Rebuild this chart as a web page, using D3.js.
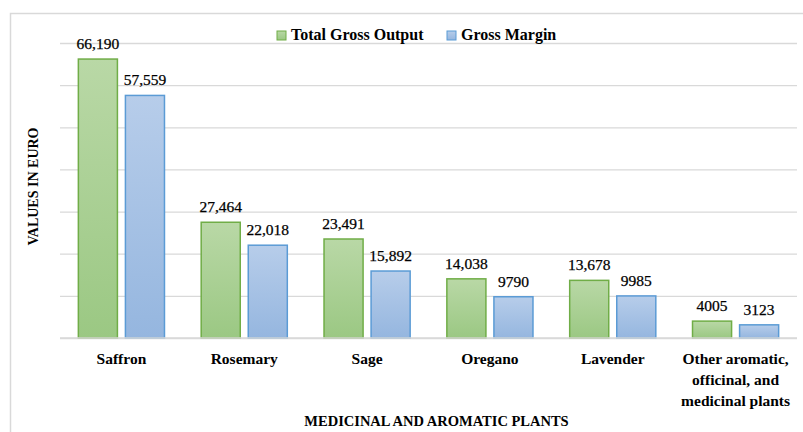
<html>
  <head>
    <title>Medicinal and aromatic plants</title>
    <script src="https://d3js.org/d3.v7.min.js"></script>
    <style>
      body { margin: 0; background: #fff; }
      svg text { font-family: "Liberation Serif", "Times New Roman", serif !important; fill: #000; }
    </style>
  </head>
  <body>
    <svg id="chart" width="803" height="432"></svg>
    <script>

    // data
    const categories = ["Saffron", "Rosemary", "Sage", "Oregano", "Lavender",
                        "Other aromatic,|officinal, and|medicinal plants"];
    const seriesNames = ["Total Gross Output", "Gross Margin"];
    const totalGrossOutput = [66190, 27464, 23491, 14038, 13678, 4005];
    const grossMargin = [57559, 22018, 15892, 9790, 9985, 3123];
    const valueLabels = [
      ["66,190", "27,464", "23,491", "14,038", "13,678", "4005"],
      ["57,559", "22,018", "15,892", "9790", "9985", "3123"]
    ];
    const yTicks = [0, 10000, 20000, 30000, 40000, 50000, 60000, 70000];

    const svg = d3.select("svg#chart");
    const margins = {"top":43, "left":60, "right":6, "bottom":94};
    const width = +svg.attr("width");
    const height = +svg.attr("height");
    const chartWidth = width - margins.left - margins.right;
    const chartHeight = height - margins.top - margins.bottom;

    // outer frame (bottom runs off the picture)
    svg.append("rect")
      .attr("x", 10.5).attr("y", 13.5)
      .attr("width", 820).attr("height", 440)
      .attr("fill", "none").attr("stroke", "#d9d9d9").attr("stroke-width", 1.5);

    const defs = svg.append("defs");
    const gradColors = [["#b9d8a6", "#9bc883"], ["#b7cdea", "#95b6df"]];
    const strokeColors = ["#70ad47", "#5b9bd5"];
    gradColors.forEach((c, i) => {
      const g = defs.append("linearGradient").attr("id", "grad" + i)
        .attr("x1", 0).attr("y1", 0).attr("x2", 0).attr("y2", 1);
      g.append("stop").attr("offset", "0%").attr("stop-color", c[0]);
      g.append("stop").attr("offset", "100%").attr("stop-color", c[1]);
    });

    const chart = svg.append("g")
      .attr("transform", "translate(" + margins.left + "," + margins.top + ")");

    const yScale = d3.scaleLinear().domain([0, 70000]).range([chartHeight, 0]);
    const x0 = d3.scaleBand().domain(categories).range([0, chartWidth]).padding(0);
    const x1 = d3.scaleBand().domain(seriesNames).range([0, x0.bandwidth()])
                 .paddingInner(0.17).paddingOuter(0.39);

    // gridlines
    const grid = d3.axisLeft(yScale).tickValues(yTicks).tickSize(-chartWidth).tickFormat("");
    chart.append("g").attr("class", "y gridlines")
      .call(grid)
      .call(g => g.select(".domain").remove())
      .call(g => g.selectAll("line").attr("stroke", "#d9d9d9").attr("stroke-width", 1.3));

    const rows = categories.map((c, i) => ({
      cat: c,
      vals: [totalGrossOutput[i], grossMargin[i]],
      labels: [valueLabels[0][i], valueLabels[1][i]]
    }));

    const groups = chart.selectAll("g.cat").data(rows).join("g")
      .attr("class", "cat")
      .attr("transform", d => "translate(" + x0(d.cat) + ",0)");

    groups.selectAll("rect.bar")
      .data(d => d.vals.map((v, k) => ({key: seriesNames[k], k: k, v: v, label: d.labels[k]})))
      .join("rect").attr("class", "bar")
      .attr("x", d => x1(d.key))
      .attr("y", d => yScale(d.v))
      .attr("width", x1.bandwidth())
      .attr("height", d => chartHeight - yScale(d.v))
      .attr("fill", d => "url(#grad" + d.k + ")")
      .attr("stroke", d => strokeColors[d.k])
      .attr("stroke-width", 1.5);

    groups.selectAll("text.val")
      .data(d => d.vals.map((v, k) => ({key: seriesNames[k], v: v, label: d.labels[k]})))
      .join("text").attr("class", "val")
      .attr("x", d => x1(d.key) + x1.bandwidth() / 2)
      .attr("y", d => yScale(d.v) - 10)
      .attr("text-anchor", "middle")
      .style("font-size", "15.5px")
      .style("stroke", "#000").style("stroke-width", 0.25)
      .text(d => d.label);

    // baseline
    chart.append("line")
      .attr("x1", 0).attr("x2", chartWidth)
      .attr("y1", yScale(0)).attr("y2", yScale(0))
      .attr("stroke", "#d9d9d9").attr("stroke-width", 1.5);

    // category labels
    const bottomAxis = d3.axisBottom(x0).tickSize(0).tickPadding(0);
    const xAxis = chart.append("g").attr("class", "x axis")
      .attr("transform", "translate(0," + chartHeight + ")")
      .call(bottomAxis);
    xAxis.select(".domain").remove();
    xAxis.selectAll(".tick text").each(function(d) {
      const t = d3.select(this);
      t.text(null).attr("y", 0).attr("dy", null).attr("fill", "#000")
       .style("font-size", "15.5px").style("font-weight", "bold");
      d.split("|").forEach((line, i) => {
        t.append("tspan").attr("x", 0).attr("y", 26 + i * 21).text(line);
      });
    });

    // legend
    const legend = svg.append("g").attr("class", "legend");
    const legendX = [277, 447];
    seriesNames.forEach((s, i) => {
      legend.append("rect")
        .attr("x", legendX[i]).attr("y", 31)
        .attr("width", 9).attr("height", 9)
        .attr("fill", "url(#grad" + i + ")")
        .attr("stroke", strokeColors[i]).attr("stroke-width", 1);
      legend.append("text")
        .attr("x", legendX[i] + 14).attr("y", 40)
        .style("font-size", "16px").style("font-weight", "bold")
        .text(s);
    });

    // axis titles
    svg.append("text")
      .attr("transform", "translate(38," + (margins.top + chartHeight / 2 - 4) + ") rotate(-90)")
      .attr("text-anchor", "middle")
      .style("font-size", "14px").style("font-weight", "bold")
      .text("VALUES IN EURO");

    svg.append("text")
      .attr("x", margins.left + chartWidth / 2 + 8)
      .attr("y", 426)
      .attr("text-anchor", "middle")
      .style("font-size", "14.5px").style("font-weight", "bold")
      .text("MEDICINAL AND AROMATIC PLANTS");

    </script>
  </body>
</html>
